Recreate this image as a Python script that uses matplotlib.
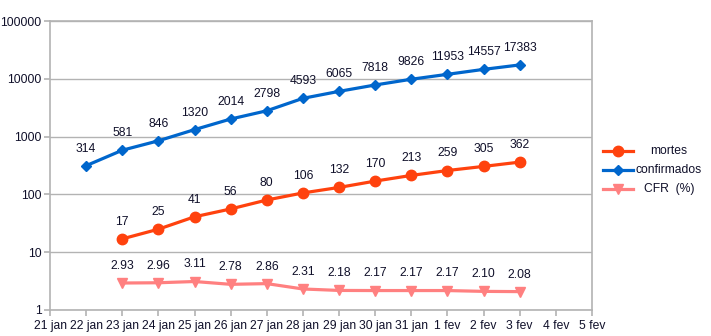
import matplotlib.pyplot as plt
from matplotlib.lines import Line2D

plt.rcParams['font.family'] = ['Liberation Sans', 'DejaVu Sans']

dates = ["21 jan", "22 jan", "23 jan", "24 jan", "25 jan", "26 jan", "27 jan", "28 jan",
         "29 jan", "30 jan", "31 jan", "1 fev", "2 fev", "3 fev", "4 fev", "5 fev"]
confirmados = [314, 581, 846, 1320, 2014, 2798, 4593, 6065, 7818, 9826, 11953, 14557, 17383]
mortes = [17, 25, 41, 56, 80, 106, 132, 170, 213, 259, 305, 362]
cfr = [2.93, 2.96, 3.11, 2.78, 2.86, 2.31, 2.18, 2.17, 2.17, 2.17, 2.10, 2.08]

x_conf = list(range(1, 1 + len(confirmados)))
x_mort = list(range(2, 2 + len(mortes)))
x_cfr = list(range(2, 2 + len(cfr)))

c_conf = '#0066cc'
c_mort = '#ff420e'
c_cfr = '#ff8080'
txt = '#10102a'
grey = '#b3b3b3'
fs = 8.7

fig = plt.figure(figsize=(7.11, 3.36), dpi=100)
ax = fig.add_axes([50 / 711, 26 / 336, 542 / 711, 289 / 336])

ax.plot(x_conf, confirmados, color=c_conf, lw=2.3, marker='D', ms=5.5)
ax.plot(x_mort, mortes, color=c_mort, lw=2.3, marker='o', ms=7.5)
ax.plot(x_cfr, cfr, color=c_cfr, lw=2.3, marker='v', ms=7.5)

for xs, ys, fmt in [(x_conf, confirmados, '{:d}'), (x_mort, mortes, '{:d}'), (x_cfr, cfr, '{:.2f}')]:
    for x, y in zip(xs, ys):
        ax.annotate(fmt.format(y), (x, y), xytext=(0, 8), textcoords='offset points',
                    ha='center', va='bottom', fontsize=fs, color=txt)

ax.set_yscale('log')
ax.set_ylim(1, 100000)
ax.set_xlim(0, 15)
ax.set_xticks(range(len(dates)))
ax.set_xticklabels(dates, fontsize=fs, color=txt)
ax.set_yticks([1, 10, 100, 1000, 10000, 100000])
ax.set_yticklabels(['1', '10', '100', '1000', '10000', '100000'], fontsize=fs, color=txt)
ax.minorticks_off()
ax.yaxis.grid(True, color=grey, lw=1)
ax.set_axisbelow(True)
for s in ax.spines.values():
    s.set_color(grey)
    s.set_linewidth(1.2)
ax.tick_params(axis='both', length=4, color=grey, width=1.2, direction='out')
ax.tick_params(axis='x', pad=3)
ax.tick_params(axis='y', pad=2)

# legend, drawn by hand so the labels can sit centred like the original
entries = [('mortes', c_mort, 'o', 7.5), ('confirmados', c_conf, 'D', 5), ('CFR  (%)', c_cfr, 'v', 7.5)]
for i, (lab, col, mk, ms) in enumerate(entries):
    yy = 1 - (151 + 19 * i) / 336
    fig.add_artist(Line2D([603 / 711, 633 / 711], [yy, yy], color=col, lw=2.3))
    fig.add_artist(Line2D([618 / 711], [yy], color=col, marker=mk, ms=ms))
    fig.text(669 / 711, yy, lab, ha='center', va='center', fontsize=fs, color=txt)

fig.savefig('out.png', dpi=100)
